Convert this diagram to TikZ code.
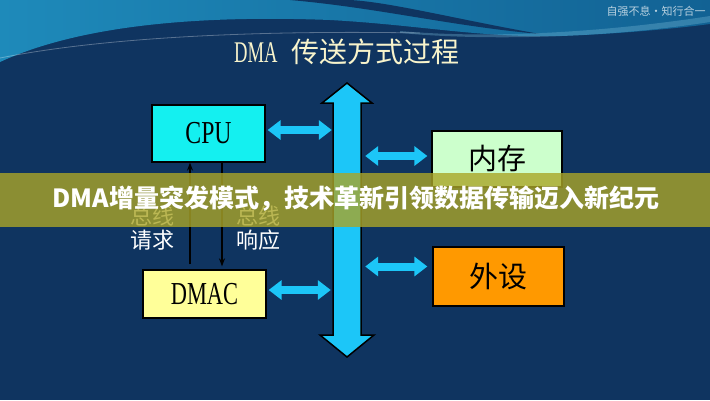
\documentclass[tikz,border=0pt]{standalone}
\usepackage{fontspec}
\usepackage{graphicx}
\setmainfont{Liberation Serif}
\newfontfamily\cjk{Noto Sans CJK SC}
\usetikzlibrary{arrows.meta}

\definecolor{navy}{RGB}{15,52,96}
\definecolor{tealA}{RGB}{30,138,186}
\definecolor{tealB}{RGB}{18,98,148}
\definecolor{busblue}{RGB}{28,198,248}
\definecolor{cpucol}{RGB}{20,240,240}
\definecolor{dmaccol}{RGB}{255,255,153}
\definecolor{memcol}{RGB}{204,255,204}
\definecolor{devcol}{RGB}{255,153,0}
\definecolor{cream}{RGB}{248,244,204}
\definecolor{bandcol}{RGB}{170,165,40}

\begin{document}
\begin{tikzpicture}[x=1pt,y=-1pt,
  box/.style={draw=black,line width=1.3pt,inner sep=0pt},
  link/.style={draw=busblue,line width=8pt,{Triangle[width=19pt,length=13pt]}-{Triangle[width=19pt,length=13pt]}},
  ctrl/.style={draw=black,line width=1.3pt},
  lbl/.style={text=white,font=\cjk\fontsize{22}{24}\selectfont,align=center,inner sep=0pt}]

\useasboundingbox (0,0) rectangle (710,400);
\fill[navy] (0,0) rectangle (710,400);
% top teal swirl
\shade[left color=tealA, right color=tealB] (0,0) -- (710,0) -- (710,24)
  .. controls (680,28) and (620,34) .. (560,36)
  .. controls (480,38) and (420,25) .. (330,20)
  .. controls (200,15) and (80,25) .. (0,62) -- cycle;
\fill[navy] (290,0) .. controls (380,8) and (450,26) .. (540,34)
  .. controls (460,20) and (390,2) .. (350,0) -- cycle;
\fill[tealA!60!white,opacity=0.35] (400,31) .. controls (500,40) and (620,30) .. (710,16)
  -- (710,22) .. controls (620,36) and (500,42) .. (400,33) -- cycle;
\draw[white,opacity=0.3,line width=0.8pt] (0,58) .. controls (100,38) and (250,30) .. (420,33);

% watermark
\node[text=white,opacity=0.7,font=\cjk\fontsize{11}{11}\selectfont] (wm) at (656,11) {自强不息·知行合一};

% title
\node[anchor=west,text=cream,inner sep=0pt] (title) at (234,52)
  {\scalebox{0.62}[1]{\fontsize{30}{30}\selectfont DMA}\hspace{14pt}{\cjk\fontsize{28}{28}\selectfont 传送方式过程}};

% bus arrow
\filldraw[fill=busblue,draw=black,line width=1.5pt,line join=miter]
  (347,83) -- (372,103) -- (361,103) -- (361,335) -- (374,335) -- (347,357)
  -- (320,335) -- (333,335) -- (333,103) -- (322,103) -- cycle;
\node[inner sep=0pt,minimum width=28pt,minimum height=232pt] (bus) at (347,219) {};

% boxes
\node[box,fill=cpucol,minimum width=113pt,minimum height=57pt] (cpu) at (208.5,133.5)
  {\scalebox{0.74}[1]{\fontsize{32}{32}\selectfont CPU}};
\node[box,fill=dmaccol,minimum width=123pt,minimum height=48pt] (dmac) at (204.5,294)
  {\scalebox{0.7}[1]{\fontsize{32}{32}\selectfont DMAC}};
\node[box,fill=memcol,minimum width=130pt,minimum height=56pt] (mem) at (497,159)
  {\cjk\fontsize{29}{29}\selectfont 内存};
\node[box,fill=devcol,minimum width=131pt,minimum height=59pt] (dev) at (498.5,276.5)
  {\cjk\fontsize{29}{29}\selectfont 外设};

% links to bus
\draw[link,shorten <=2pt,shorten >=1pt] ([yshift=3.5pt]cpu.east) -- ([yshift=3.5pt]cpu.east -| bus.west);
\draw[link,shorten <=2pt,shorten >=2pt] ([yshift=4pt]dmac.east) -- ([yshift=4pt]dmac.east -| bus.west);
\draw[link,shorten <=4pt,shorten >=4pt] ([yshift=3pt]mem.west -| bus.east) -- ([yshift=3pt]mem.west);
\draw[link,shorten <=4pt,shorten >=5pt] ([yshift=10pt]dev.west -| bus.east) -- ([yshift=10pt]dev.west);

% control lines
\draw[ctrl,-{Stealth[length=8pt,width=6pt]},shorten <=5pt] ([xshift=-18.5pt]cpu.south |- dmac.north) -- ([xshift=-18.5pt]cpu.south);
\draw[ctrl,-{Stealth[length=8pt,width=6pt]},shorten >=3pt] ([xshift=13.5pt]cpu.south) -- ([xshift=13.5pt]cpu.south |- dmac.north);

% labels
\node[lbl] (l1) at (152,228) {总线\\请求};
\node[lbl] (l2) at (258,228) {总线\\响应};

% banner
\fill[bandcol,opacity=0.8] (0,173) rectangle (710,227);
\node[text=white,font=\cjk\bfseries\fontsize{25}{25}\selectfont,inner sep=0pt] (banner) at (356,199)
  {DMA增量突发模式，技术革新引领数据传输迈入新纪元};
\end{tikzpicture}
\end{document}
